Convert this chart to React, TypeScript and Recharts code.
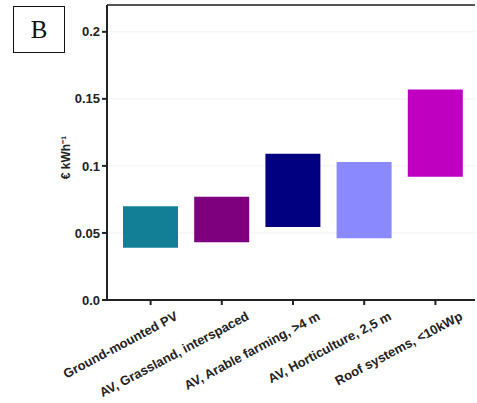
import React from "react";
import {
    BarChart,
    Bar,
    XAxis,
    YAxis,
    CartesianGrid,
    Cell,
    ReferenceLine,
} from "recharts";

const categories = [
    "Ground-mounted PV",
    "AV, Grassland, interspaced",
    "AV, Arable farming, >4 m",
    "AV, Horticulture, 2,5 m",
    "Roof systems, <10kWp",
];
const lows = [0.039, 0.043, 0.0545, 0.046, 0.092];
const highs = [0.07, 0.077, 0.109, 0.103, 0.157];
const barColors = ["#137f97", "#7e007e", "#000080", "#8a8afe", "#c000c0"];
const yTicks = [0, 0.05, 0.1, 0.15, 0.2];
const yTickLabels = ["0.0", "0.05", "0.1", "0.15", "0.2"];

const data = categories.map((name, i) => ({
    name,
    range: [lows[i], highs[i]],
}));

const FONT = "Liberation Sans, Arial, sans-serif";

function XTick(props: any) {
    const { x, y, payload } = props;
    return (
        <g transform={`translate(${x + 28},${y + 12}) rotate(-28)`}>
            <text
                textAnchor="end"
                fontFamily={FONT}
                fontWeight="bold"
                fontSize={13}
                fill="#222"
            >
                {payload.value}
            </text>
        </g>
    );
}

export default function App() {
    return (
        <div
            style={{
                position: "absolute",
                left: 0,
                top: 0,
                width: 477,
                height: 403,
                background: "#fff",
            }}
        >
            {/* panel letter */}
            <div
                style={{
                    position: "absolute",
                    left: 13,
                    top: 6,
                    width: 50,
                    height: 45,
                    border: "1.5px solid #111",
                    fontFamily: "Liberation Serif, serif",
                    fontSize: 25,
                    lineHeight: "45px",
                    textAlign: "center",
                    color: "#111",
                }}
            >
                B
            </div>

            <BarChart
                width={477}
                height={403}
                data={data}
                margin={{ top: 5, right: 2, left: 0, bottom: 0 }}
                barCategoryGap={8}
            >
                <CartesianGrid
                    vertical={false}
                    stroke="#f2f2f2"
                    horizontalValues={yTicks}
                />
                <XAxis
                    dataKey="name"
                    height={103}
                    interval={0}
                    padding={{ left: 8, right: 4 }}
                    tick={<XTick />}
                    tickSize={5}
                    axisLine={{ stroke: "#222", strokeWidth: 2 }}
                    tickLine={{ stroke: "#222", strokeWidth: 2 }}
                />
                <YAxis
                    width={107}
                    domain={[0, 0.22]}
                    ticks={yTicks}
                    allowDataOverflow
                    tickFormatter={(v: number) => yTickLabels[yTicks.indexOf(v)]}
                    tickSize={5}
                    tickMargin={2}
                    axisLine={{ stroke: "#222", strokeWidth: 2 }}
                    tickLine={{ stroke: "#222", strokeWidth: 2 }}
                    tick={{
                        fill: "#222",
                        fontFamily: FONT,
                        fontWeight: "bold",
                        fontSize: 13,
                    }}
                    label={{
                        value: "€ kWh⁻¹",
                        angle: -90,
                        position: "center",
                        dx: 12,
                        dy: 5,
                        fill: "#222",
                        fontFamily: FONT,
                        fontWeight: "bold",
                        fontSize: 12,
                    }}
                />
                <ReferenceLine y={0.22} stroke="#555" strokeWidth={2} />
                <Bar dataKey="range" isAnimationActive={false}>
                    {data.map((d, i) => (
                        <Cell key={d.name} fill={barColors[i]} />
                    ))}
                </Bar>
            </BarChart>
        </div>
    );
}
